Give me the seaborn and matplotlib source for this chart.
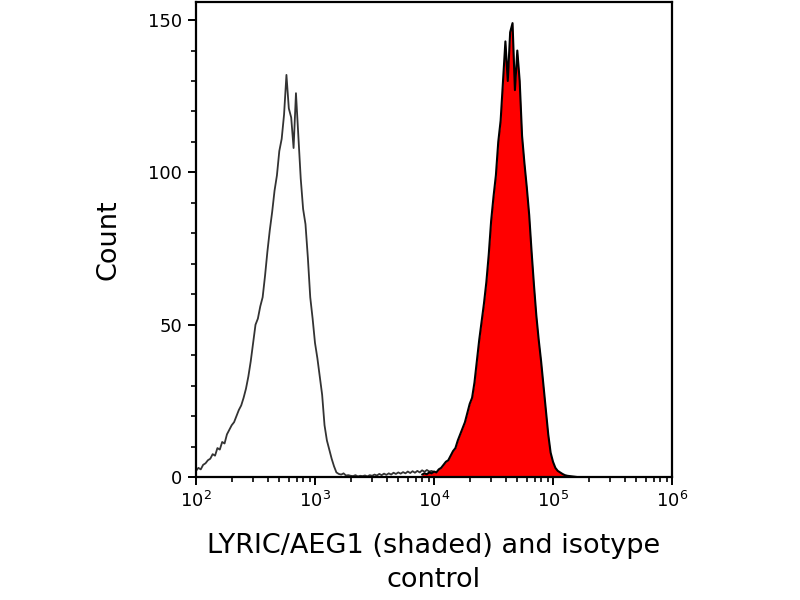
import numpy as np
import pandas as pd
import matplotlib
matplotlib.use("Agg")
import matplotlib.pyplot as plt
import seaborn as sns
from matplotlib.ticker import FixedLocator, MultipleLocator, LogLocator, NullFormatter

# ---- data (log10 intensity, event count) ----
iso_exp = [2.00, 2.02, 2.04, 2.06, 2.08, 2.10, 2.12, 2.14, 2.16, 2.18,
           2.20, 2.22, 2.24, 2.26, 2.28, 2.30, 2.32, 2.34, 2.36, 2.38,
           2.40, 2.42, 2.44, 2.46, 2.48, 2.50, 2.52, 2.54, 2.56, 2.58,
           2.60, 2.62, 2.64, 2.66, 2.68, 2.70, 2.72, 2.74, 2.76, 2.78,
           2.80, 2.82, 2.84, 2.86, 2.88, 2.90, 2.92, 2.94, 2.96, 2.98,
           3.00, 3.02, 3.04, 3.06, 3.08, 3.10, 3.12, 3.14, 3.16, 3.18,
           3.20, 3.22, 3.24, 3.26, 3.28, 3.30, 3.32, 3.34, 3.36, 3.38,
           3.40, 3.42, 3.44, 3.46, 3.48, 3.50, 3.52, 3.54, 3.56, 3.58,
           3.60, 3.62, 3.64, 3.66, 3.68, 3.70, 3.72, 3.74, 3.76, 3.78,
           3.80, 3.82, 3.84, 3.86, 3.88, 3.90, 3.92, 3.94, 3.96, 3.98,
           4.00]
iso_count = [2, 3, 2.5, 4, 4.5, 5.5, 6, 7.5, 7, 9.5,
             9, 11.5, 11, 14, 15.5, 17, 18, 20, 22, 23.5,
             26, 29, 33, 38, 44, 50, 52, 56, 59, 66,
             74, 81, 87, 94, 99, 107, 111, 119, 132, 121,
             118, 108, 126, 112, 98, 88, 83, 72, 59, 52,
             44, 39, 33, 27, 17, 12, 9, 6, 3.5, 1.5,
             1, 0.8, 1.2, 0.5, 0.6, 0.4, 0.3, 0.6, 0.2, 0.4,
             0.3, 0.5, 0.2, 0.6, 0.4, 0.8, 0.5, 1.0, 0.6, 1.1,
             0.7, 1.2, 0.8, 1.4, 1.0, 1.5, 1.1, 1.6, 1.2, 1.8,
             1.3, 1.9, 1.4, 2.0, 1.5, 2.2, 1.7, 2.3, 1.8, 2.0,
             1.6]

lyric_exp = [3.90, 3.92, 3.94, 3.96, 3.98, 4.00, 4.02, 4.04, 4.06, 4.08,
             4.10, 4.12, 4.14, 4.16, 4.18, 4.20, 4.22, 4.24, 4.26, 4.28,
             4.30, 4.32, 4.34, 4.36, 4.38, 4.40, 4.42, 4.44, 4.46, 4.48,
             4.50, 4.52, 4.54, 4.56, 4.58, 4.60, 4.62, 4.64, 4.66, 4.68,
             4.70, 4.72, 4.74, 4.76, 4.78, 4.80, 4.82, 4.84, 4.86, 4.88,
             4.90, 4.92, 4.94, 4.96, 4.98, 5.00, 5.02, 5.04, 5.06, 5.08,
             5.10, 5.12, 5.14, 5.16, 5.18, 5.20]
lyric_count = [0.8, 1.2, 0.9, 1.5, 1.2, 1.8, 1.5, 2.5, 3, 4,
               5, 5.5, 7, 8.5, 9.5, 12, 14, 16, 18, 21,
               24, 26, 31, 38, 45, 51, 57, 64, 73, 84,
               92, 99, 110, 117, 130, 143, 130, 146, 149, 127,
               140, 130, 112, 103, 95, 86, 74, 63, 53, 45,
               38, 30, 22, 14, 8, 5, 3, 2, 1.5, 1,
               0.6, 0.4, 0.3, 0.2, 0.1, 0]

x_tick_exps = [2, 3, 4, 5, 6]
y_ticks = [0, 50, 100, 150]
x_label = "LYRIC/AEG1 (shaded) and isotype\ncontrol"
y_label = "Count"

# ---- tables ----
iso = pd.DataFrame({"intensity": np.power(10.0, iso_exp), "count": iso_count})
lyric = pd.DataFrame({"intensity": np.power(10.0, lyric_exp), "count": lyric_count})

sns.set_style("ticks")
plt.rcParams["font.family"] = ["DejaVu Sans"]
plt.rcParams["mathtext.default"] = "regular"
plt.rcParams["text.color"] = "black"
plt.rcParams["axes.labelcolor"] = "black"
plt.rcParams["xtick.color"] = "black"
plt.rcParams["ytick.color"] = "black"

fig = plt.figure(figsize=(8, 6), dpi=100)
ax = fig.add_axes([0.245, 0.205, 0.595, 0.792])

ax.fill_between(lyric["intensity"], lyric["count"], 0, color="#ff0000", lw=0, zorder=1)
sns.lineplot(data=iso, x="intensity", y="count", ax=ax, color="#333333",
             lw=1.3, estimator=None, sort=False, zorder=2)
sns.lineplot(data=lyric, x="intensity", y="count", ax=ax, color="black",
             lw=1.5, estimator=None, sort=False, zorder=3)

ax.set_xscale("log")
ax.set_xlim(1e2, 1e6)
ax.set_ylim(0, 156)

ax.xaxis.set_major_locator(FixedLocator([10.0 ** e for e in x_tick_exps]))
ax.set_xticklabels([f"$10^{{{e}}}$" for e in x_tick_exps])
ax.xaxis.set_minor_locator(LogLocator(base=10, subs=np.arange(2, 10)))
ax.xaxis.set_minor_formatter(NullFormatter())
ax.set_yticks(y_ticks)
ax.yaxis.set_minor_locator(MultipleLocator(10))

for s in ax.spines.values():
    s.set_visible(True)
    s.set_linewidth(1.6)
    s.set_color("black")

ax.tick_params(axis="both", which="major", direction="out", length=6, width=1.4,
               labelsize=13, colors="black", pad=4)
ax.tick_params(axis="both", which="minor", direction="out", length=3.5, width=1.2)
ax.tick_params(top=False, right=False, which="both")

ax.set_xlabel(x_label, fontsize=19.5, labelpad=16, linespacing=1.4, color="black")
ax.set_ylabel(y_label, fontsize=19.5, labelpad=19, color="black")

fig.savefig("out.png", dpi=100, facecolor="white")
